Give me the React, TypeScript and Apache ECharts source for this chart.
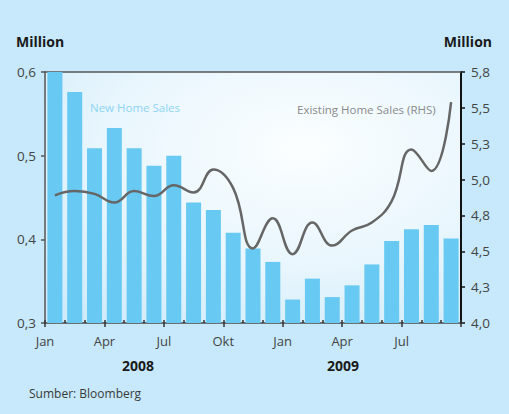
import { useEffect, useRef } from 'react';
import * as echarts from 'echarts';

// Monthly periods, Jan 2008 – Sep 2009
const months = [
  'Jan 2008', 'Feb 2008', 'Mar 2008', 'Apr 2008', 'Mei 2008', 'Jun 2008',
  'Jul 2008', 'Agu 2008', 'Sep 2008', 'Okt 2008', 'Nov 2008', 'Des 2008',
  'Jan 2009', 'Feb 2009', 'Mar 2009', 'Apr 2009', 'Mei 2009', 'Jun 2009',
  'Jul 2009', 'Agu 2009', 'Sep 2009',
];

// New home sales, million units (left axis)
const newHomeSales = [
  0.6, 0.576, 0.509, 0.533, 0.509, 0.488, 0.5, 0.444, 0.435, 0.408, 0.389, 0.373,
  0.328, 0.353, 0.331, 0.345, 0.37, 0.398, 0.412, 0.417, 0.401,
];

// Existing home sales, million units (right axis)
const existingHomeSales = [
  4.89, 4.92, 4.9, 4.84, 4.92, 4.885, 4.96, 4.91, 5.07, 4.94, 4.52, 4.73,
  4.48, 4.7, 4.54, 4.645, 4.7, 4.85, 5.21, 5.06, 5.54,
];

// Quarter tick labels on the month boundaries
const quarterLabels = ['Jan', 'Apr', 'Jul', 'Okt', 'Jan', 'Apr', 'Jul'];
const years = ['2008', '2009'];

const FONT = '"Open Sans", "Noto Sans", sans-serif';
const comma = (v: number) => v.toFixed(1).replace('.', ',');

export default function App() {
  const ref = useRef<HTMLDivElement>(null);

  useEffect(() => {
    if (!ref.current) return;
    const chart = echarts.init(ref.current, undefined, { renderer: 'svg' });

    chart.setOption({
      animation: false,
      backgroundColor: '#c7e9fb',
      textStyle: { fontFamily: FONT },
      grid: {
        left: 45,
        right: 48,
        top: 72,
        bottom: 91,
        show: true,
        borderWidth: 0,
        backgroundColor: new echarts.graphic.RadialGradient(0.62, 0.3, 0.85, [
          { offset: 0, color: '#fbfeff' },
          { offset: 0.55, color: '#e9f6fd' },
          { offset: 1, color: '#cfebfa' },
        ]),
      },
      xAxis: [
        {
          type: 'category',
          data: months,
          position: 'bottom',
          boundaryGap: true,
          axisLine: { lineStyle: { color: '#4a4a4a', width: 1.5 } },
          axisTick: {
            show: true,
            inside: true,
            length: 3,
            interval: 0,
            lineStyle: { color: '#333', width: 1.5 },
          },
          axisLabel: { show: false },
          splitLine: { show: false },
        },
        {
          type: 'value',
          min: 0,
          max: months.length,
          interval: 3,
          position: 'bottom',
          axisLine: { show: false },
          axisTick: { show: true, length: 4, lineStyle: { color: '#333', width: 1.5 } },
          axisLabel: {
            margin: 11,
            fontSize: 13,
            color: '#444',
            fontFamily: FONT,
            showMinLabel: true,
            showMaxLabel: true,
            formatter: (v: number) => quarterLabels[Math.round(v / 3)] ?? '',
          },
          splitLine: { show: false },
        },
        {
          type: 'category',
          data: months,
          position: 'top',
          axisLine: { lineStyle: { color: '#555', width: 1.5 } },
          axisTick: { show: false },
          axisLabel: { show: false },
          splitLine: { show: false },
        },
      ],
      yAxis: [
        {
          type: 'value',
          min: 0.3,
          max: 0.6,
          interval: 0.1,
          position: 'left',
          axisLine: { show: true, lineStyle: { color: '#555', width: 1.5 } },
          axisTick: { show: true, length: 4, lineStyle: { color: '#555', width: 1.5 } },
          axisLabel: { margin: 9, fontSize: 13.5, color: '#444', fontFamily: FONT, formatter: comma },
          splitLine: { show: false },
        },
        {
          type: 'value',
          min: 4,
          max: 5.75,
          interval: 0.25,
          position: 'right',
          axisLine: { show: true, lineStyle: { color: '#111', width: 2 } },
          axisTick: { show: true, length: 4, lineStyle: { color: '#111', width: 1.5 } },
          axisLabel: { margin: 10, fontSize: 13.5, color: '#444', fontFamily: FONT, formatter: comma },
          splitLine: { show: false },
        },
      ],
      series: [
        {
          name: 'New Home Sales',
          type: 'bar',
          xAxisIndex: 0,
          yAxisIndex: 0,
          data: newHomeSales,
          barWidth: 15,
          itemStyle: { color: '#68c9f2' },
          z: 2,
        },
        {
          name: 'Existing Home Sales (RHS)',
          type: 'line',
          xAxisIndex: 0,
          yAxisIndex: 1,
          data: existingHomeSales,
          smooth: 0.45,
          symbol: 'none',
          lineStyle: { color: '#666', width: 2.5 },
          z: 3,
        },
      ],
      graphic: [
        {
          type: 'text',
          left: 16,
          top: 34,
          style: { text: 'Million', font: `bold 14px ${FONT}`, fill: '#1a1a1a' },
        },
        {
          type: 'text',
          right: 17,
          top: 34,
          style: { text: 'Million', font: `bold 14px ${FONT}`, fill: '#1a1a1a' },
        },
        {
          type: 'text',
          left: 90,
          top: 101,
          style: { text: 'New Home Sales', font: `11.5px ${FONT}`, fill: '#8fd4f5' },
        },
        {
          type: 'text',
          left: 297,
          top: 103,
          style: { text: 'Existing Home Sales (RHS)', font: `11.5px ${FONT}`, fill: '#8a8a8a' },
        },
        {
          type: 'text',
          x: 138,
          y: 365,
          style: {
            text: years[0],
            font: `bold 14px ${FONT}`,
            fill: '#1a1a1a',
            align: 'center',
            verticalAlign: 'middle',
          },
        },
        {
          type: 'text',
          x: 343,
          y: 365,
          style: {
            text: years[1],
            font: `bold 14px ${FONT}`,
            fill: '#1a1a1a',
            align: 'center',
            verticalAlign: 'middle',
          },
        },
        {
          type: 'text',
          left: 29,
          top: 387,
          style: { text: 'Sumber: Bloomberg', font: `12px ${FONT}`, fill: '#3a3a3a' },
        },
      ],
    });

    return () => chart.dispose();
  }, []);

  return (
    <div
      ref={ref}
      style={{ position: 'fixed', left: 0, top: 0, width: 509, height: 414 }}
    />
  );
}
